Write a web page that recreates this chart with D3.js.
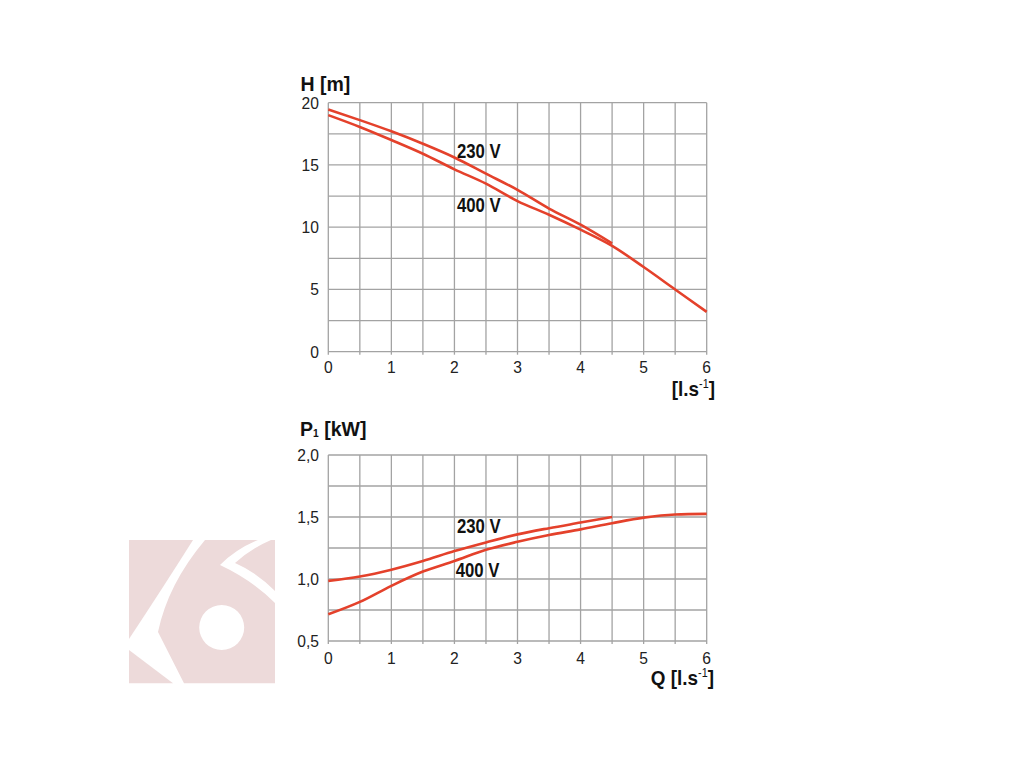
<!DOCTYPE html>
<html><head><meta charset="utf-8">
<script src="https://cdn.jsdelivr.net/npm/d3@7"></script>
<style>
html,body{margin:0;padding:0;background:#fff;}
svg{display:block;}
text{font-family:"Liberation Sans",Arial,sans-serif;}
</style></head>
<body>
<svg id="c" width="1024" height="768"></svg>
<script>
// ---- data ----
const qTicks = [0, 1, 2, 3, 4, 5, 6];
const hTicks = [0, 5, 10, 15, 20];
const pTicks = [0.5, 1.0, 1.5, 2.0];
const pTickLabels = ["0,5", "1,0", "1,5", "2,0"];

const q230 = [0, 0.5, 1, 1.5, 2, 2.5, 3, 3.5, 4, 4.5];
const q400 = [0, 0.5, 1, 1.5, 2, 2.5, 3, 3.5, 4, 4.5, 5, 5.5, 6];
const h230 = [19.45, 18.6, 17.7, 16.7, 15.6, 14.3, 13.0, 11.5, 10.2, 8.7];
const h400 = [19.0, 18.05, 17.0, 15.9, 14.65, 13.5, 12.1, 11.0, 9.8, 8.5, 6.8, 5.0, 3.2];
const p230 = [0.985, 1.02, 1.075, 1.145, 1.225, 1.295, 1.36, 1.41, 1.455, 1.50];
const p400 = [0.715, 0.815, 0.945, 1.06, 1.145, 1.235, 1.30, 1.355, 1.40, 1.45, 1.495, 1.52, 1.525];

const svg = d3.select("#c");
const RED = "#e4412b", GRID = "#a3a3a3";

// ---- watermark logo ----
const logo = svg.append("g");
const PINK = "#eddada";
// left piece
logo.append("path").attr("fill", PINK).attr("d", "M129,540 L193,540 Q164,586 129,639 Z");
// bottom-left triangle
logo.append("path").attr("fill", PINK).attr("d", "M129,650 L129,683.3 L173,683.3 Z");
// main body with chevron notch and circular hole
logo.append("path").attr("fill", PINK).attr("fill-rule", "evenodd")
  .attr("d", "M205,540 L258,540 Q236,549 220,565 Q252,580 275,603 L275,683.3 L184,683.3 L158,632 Q168,584 205,540 Z " +
             "M199.2,627.5 a22.5,22.5 0 1,0 45,0 a22.5,22.5 0 1,0 -45,0 Z");
// top-right wedge
logo.append("path").attr("fill", PINK).attr("d", "M235,563 Q252,548 271,540 L275,540 L275,591 Q256,572 235,563 Z");

// ---- chart builder ----
function panel(cfg) {
  const x = d3.scaleLinear().domain([0, 6]).range([328.3, 706.7]);
  const y = d3.scaleLinear().domain(cfg.yDomain).range(cfg.yRange);
  const g = svg.append("g");
  const [y0, y1] = cfg.yDomain;
  const vgrid = d3.range(0, 6.0001, 0.5);
  const hgrid = d3.range(y0, y1 + 1e-6, cfg.hStep);
  g.selectAll(".v").data(vgrid).join("line")
    .attr("x1", d => x(d)).attr("x2", d => x(d))
    .attr("y1", y(y1)).attr("y2", y(y0) + 3)
    .attr("stroke", GRID).attr("stroke-width", 1.3);
  g.selectAll(".h").data(hgrid).join("line")
    .attr("x1", x(0)).attr("x2", x(6))
    .attr("y1", d => y(d)).attr("y2", d => y(d))
    .attr("stroke", GRID).attr("stroke-width", 1.3);
  g.selectAll(".yl").data(cfg.yTicks).join("text")
    .attr("transform", d => `translate(319,${y(d) + 6}) scale(0.92,1)`)
    .attr("text-anchor", "end").attr("font-size", 17).attr("fill", "#222")
    .text((d, i) => cfg.yLabels[i]);
  g.selectAll(".xl").data(qTicks).join("text")
    .attr("transform", d => `translate(${x(d)},${y(y0) + cfg.xLabOff}) scale(0.92,1)`)
    .attr("text-anchor", "middle").attr("font-size", 17).attr("fill", "#222")
    .text(d => d);
  const line = d3.line().x(d => x(d[0])).y(d => y(d[1])).curve(d3.curveMonotoneX);
  cfg.series.forEach(s => {
    g.append("path").datum(s.q.map((q, i) => [q, s.v[i]]))
      .attr("d", line).attr("fill", "none").attr("stroke", RED)
      .attr("stroke-width", 2.6).attr("stroke-linejoin", "round");
  });
  return {x, y, g};
}

function boldText(g, px, py, sx, size, build, anchor) {
  const t = g.append("text")
    .attr("transform", `translate(${px},${py}) scale(${sx},1)`)
    .attr("font-size", size).attr("font-weight", "bold").attr("fill", "#111")
    .attr("text-anchor", anchor || "start");
  build(t);
  return t;
}

// ---- top: H ----
const topP = panel({
  yDomain: [0, 20], yRange: [351.7, 102.7], hStep: 2.5, xLabOff: 21.5,
  yTicks: hTicks, yLabels: hTicks.map(String),
  series: [{q: q230, v: h230}, {q: q400, v: h400}]
});
boldText(topP.g, 300.5, 90.5, 0.93, 21, t => t.text("H [m]"));
boldText(topP.g, topP.x(2.04), topP.y(15.55), 0.86, 19.5, t => t.text("230 V"));
boldText(topP.g, topP.x(2.04), topP.y(11.25), 0.86, 19.5, t => t.text("400 V"));
boldText(topP.g, 715, 395.5, 0.9, 21, t => {
  t.append("tspan").text("[l.s");
  t.append("tspan").attr("font-size", 12).attr("dy", -8).attr("font-weight", "normal").text("-1");
  t.append("tspan").attr("dy", 8).text("]");
}, "end");

// ---- bottom: P1 ----
const botP = panel({
  yDomain: [0.5, 2.0], yRange: [641, 455], hStep: 0.25, xLabOff: 23,
  yTicks: pTicks, yLabels: pTickLabels,
  series: [{q: q230, v: p230}, {q: q400, v: p400}]
});
boldText(botP.g, 300, 436, 0.93, 21, t => {
  t.append("tspan").text("P");
  t.append("tspan").attr("font-size", 11).attr("dy", 1).text("1");
  t.append("tspan").attr("dy", -1).text(" [kW]");
});
boldText(botP.g, botP.x(2.04), botP.y(1.368), 0.86, 19.5, t => t.text("230 V"));
boldText(botP.g, botP.x(2.02), botP.y(1.019), 0.86, 19.5, t => t.text("400 V"));
boldText(botP.g, 714, 685, 0.9, 21, t => {
  t.append("tspan").text("Q [l.s");
  t.append("tspan").attr("font-size", 12).attr("dy", -8).attr("font-weight", "normal").text("-1");
  t.append("tspan").attr("dy", 8).text("]");
}, "end");
</script>
</body></html>
